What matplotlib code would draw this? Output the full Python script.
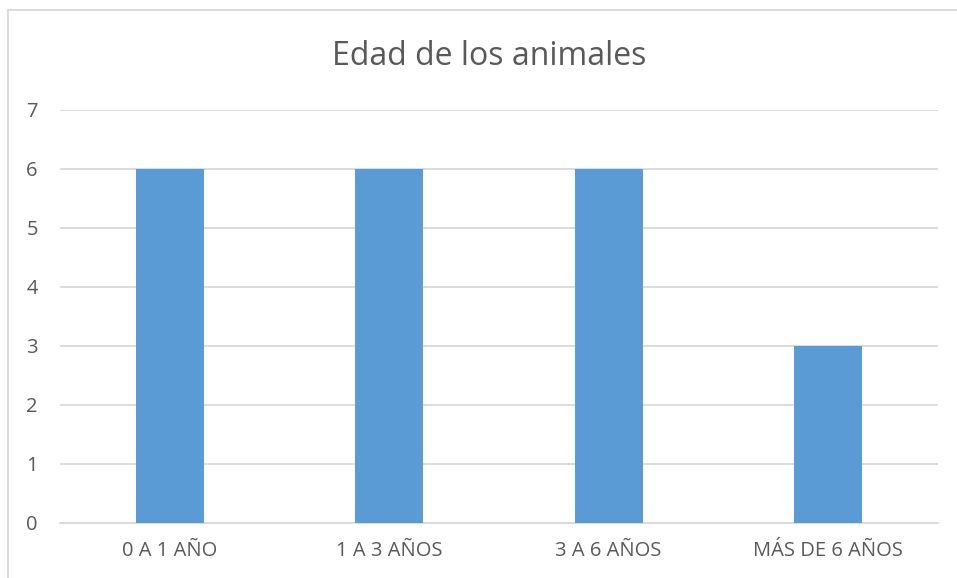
import matplotlib.pyplot as plt
from matplotlib.patches import Rectangle

categories = ['0 A 1 AÑO', '1 A 3 AÑOS', '3 A 6 AÑOS', 'MÁS DE 6 AÑOS']
values = [6, 6, 6, 3]

plt.rcParams['font.family'] = ['Open Sans', 'DejaVu Sans']
text_color = '#595959'
grid_color = '#d9d9d9'

fig = plt.figure(figsize=(9.57, 5.78), dpi=100)
ax = fig.add_axes([0.0627, 0.0952, 0.9173, 0.7145])

ax.bar(range(len(categories)), values, width=0.31, color='#5b9bd5', zorder=3)
ax.set_xlim(-0.5, len(categories) - 0.5)
ax.set_ylim(0, 7)
ax.set_yticks(range(0, 8))
ax.set_xticks(range(len(categories)))
ax.set_xticklabels(categories)
ax.yaxis.grid(True, color=grid_color, linewidth=1.3, zorder=0)
ax.tick_params(axis='both', length=0, colors=text_color, labelsize=14.5)
ax.tick_params(axis='y', pad=16)
ax.tick_params(axis='x', pad=13)
for s in ['top', 'right', 'left']:
    ax.spines[s].set_visible(False)
ax.spines['bottom'].set_color(grid_color)
ax.spines['bottom'].set_linewidth(1.3)

fig.text(0.511, 0.902, 'Edad de los animales', ha='center', va='center',
         fontsize=23, color=text_color)

# chart border
fig.patches.append(Rectangle((0.0084, -0.05), 1.05, 1.0327, transform=fig.transFigure,
                             fill=False, edgecolor=grid_color, linewidth=1.3))

fig.savefig('out.png', dpi=100)
